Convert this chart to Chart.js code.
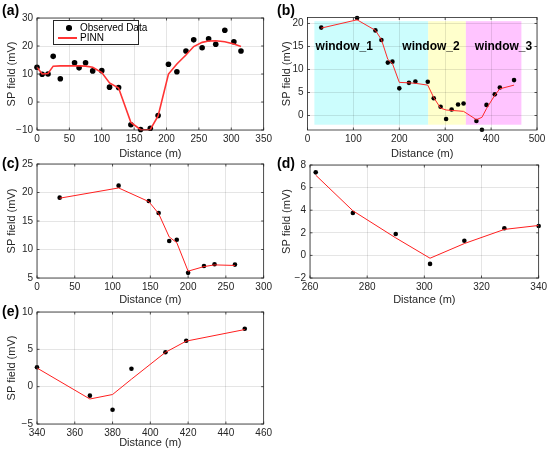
<!DOCTYPE html>
<html lang="en">
<head>
  <meta charset="UTF-8" />
  <title>SP field: observed data vs PINN</title>
  <script src="https://cdn.jsdelivr.net/npm/chart.js"></script>
  <style>
    html, body { margin: 0; padding: 0; background: #fff; }
    #fig { position: relative; width: 550px; height: 453px; overflow: hidden; font-family: "Liberation Sans", Arial, sans-serif; }
    .cell { position: absolute; }
    .tag { position: absolute; font-weight: bold; font-size: 14px; color: #000; line-height: 16px; }
    .legend { position: absolute; left: 53px; top: 20px; width: 84px; height: 23px; border: 0.8px solid #262626; background: #fff; font-size: 10px; color: #000; }
    .legend .row { position: absolute; left: 0; height: 11px; line-height: 11px; }
    .legend .dot { position: absolute; left: 12px; top: 3px; width: 5.5px; height: 5.5px; border-radius: 50%; background: #000; }
    .legend .seg { position: absolute; left: 4px; top: 5px; width: 19px; height: 1.6px; background: #ff3333; }
    .legend .txt { position: absolute; left: 26px; white-space: nowrap; }
  </style>
</head>

<body>
  <div id="fig">
    <div class="cell" style="left:0;top:0;width:275px;height:164px"><canvas id="chart-a"></canvas></div>
    <div class="cell" style="left:275px;top:0;width:275px;height:164px"><canvas id="chart-b"></canvas></div>
    <div class="cell" style="left:0;top:146px;width:275px;height:164px"><canvas id="chart-c"></canvas></div>
    <div class="cell" style="left:275px;top:146px;width:275px;height:164px"><canvas id="chart-d"></canvas></div>
    <div class="cell" style="left:0;top:293px;width:275px;height:160px"><canvas id="chart-e"></canvas></div>

    <div class="tag" style="left:2px;top:2px">(a)</div>
    <div class="tag" style="left:277px;top:2px">(b)</div>
    <div class="tag" style="left:2px;top:155px">(c)</div>
    <div class="tag" style="left:277px;top:155px">(d)</div>
    <div class="tag" style="left:2px;top:303px">(e)</div>

    <div class="legend">
      <div class="row" style="top:1px;width:100%"><span class="dot"></span><span class="txt">Observed Data</span></div>
      <div class="row" style="top:11px;width:100%"><span class="seg"></span><span class="txt">PINN</span></div>
    </div>
  </div>

  <script>
    // (a) full profile
    const distA = [0, 8, 17, 25, 36, 58, 65, 75, 86, 100, 112, 126, 145, 160, 175, 187, 203, 216, 230, 242, 255, 265, 276, 290, 304, 315];
    const obsA  = [12.4, 9.9, 10.0, 16.3, 8.3, 14.0, 12.2, 14.0, 11.1, 11.2, 5.3, 5.2, -8.1, -9.8, -9.4, -4.8, 13.5, 10.8, 18.2, 22.2, 19.4, 22.6, 20.6, 25.6, 21.5, 18.2];
    const pinnA = [12.4, 10.0, 10.2, 12.8, 12.9, 12.9, 12.9, 12.8, 12.4, 10.5, 6.8, 5.0, -7.3, -9.9, -9.8, -5.0, 10.0, 13.6, 16.8, 19.8, 21.3, 21.8, 21.9, 21.5, 20.7, 19.8];

    // (b) all three windows together
    const distB = [30, 108, 148, 161, 175, 185, 200, 221, 235, 262, 275, 290, 302, 314, 328, 340, 368, 380, 390, 408, 419, 450];
    const obsB  = [19.1, 21.2, 18.5, 16.4, 11.5, 11.7, 5.9, 7.1, 7.4, 7.35, 3.75, 1.9, -0.75, 1.3, 2.4, 2.6, -1.2, -3.1, 2.3, 4.6, 6.1, 7.7];
    const pinnB = [19.0, 20.8, 18.5, 16.5, 12.2, 11.3, 7.2, 7.1, 7.0, 6.6, 3.9, 1.6, 1.2, 1.1, 1.0, 0.9, -0.9, -0.4, 1.5, 4.4, 5.8, 6.6];
    const windowNames = ["window_1", "window_2", "window_3"];
    const windowStart = [15, 263, 345];
    const windowEnd   = [263, 345, 466];
    const windowLabelX = [80, 269, 427];
    const windowColors = ["#ccfdfd", "#ffffcc", "#ffc4ff"];

    // (c) window 1
    const distC = [30, 108, 148, 161, 175, 185, 200, 221, 235, 262];
    const obsC  = [19.1, 21.2, 18.5, 16.4, 11.5, 11.7, 5.9, 7.1, 7.4, 7.35];
    const pinnC = [19.0, 20.8, 18.4, 16.3, 12.2, 11.2, 6.2, 7.0, 7.3, 7.2];

    // (d) window 2
    const distD = [262, 275, 290, 302, 314, 328, 340];
    const obsD  = [7.35, 3.75, 1.9, -0.75, 1.3, 2.4, 2.6];
    const pinnD = [7.1, 3.95, 1.55, -0.25, 1.05, 2.3, 2.65];

    // (e) window 3
    const distE = [340, 368, 380, 390, 408, 419, 450];
    const obsE  = [2.6, -1.2, -3.1, 2.4, 4.6, 6.15, 7.75];
    const pinnE = [2.5, -1.65, -1.05, 1.0, 4.6, 6.1, 7.65];

    const FONT = "'Liberation Sans', Arial, sans-serif";
    const INK = "#262626";

    const toPoints = (xs, ys) => xs.map((x, i) => ({ x: x, y: ys[i] }));
    const minus = v => String(v).replace("-", "\u2212");

    // matlab-like axes box with inward ticks
    const boxPlugin = {
      id: "box",
      afterDraw(chart) {
        const { ctx, chartArea: a, scales: { x, y } } = chart;
        ctx.save();
        ctx.strokeStyle = INK;
        ctx.lineWidth = 0.8;
        ctx.strokeRect(a.left, a.top, a.right - a.left, a.bottom - a.top);
        ctx.beginPath();
        x.ticks.forEach(t => {
          const px = x.getPixelForValue(t.value);
          ctx.moveTo(px, a.bottom); ctx.lineTo(px, a.bottom - 2.5);
          ctx.moveTo(px, a.top); ctx.lineTo(px, a.top + 2.5);
        });
        y.ticks.forEach(t => {
          const py = y.getPixelForValue(t.value);
          ctx.moveTo(a.left, py); ctx.lineTo(a.left + 2.5, py);
          ctx.moveTo(a.right, py); ctx.lineTo(a.right - 2.5, py);
        });
        ctx.stroke();
        ctx.restore();
      }
    };

    // shaded windows for panel (b)
    const windowPlugin = {
      id: "windows",
      beforeDraw(chart) {
        const { ctx, scales: { x, y } } = chart;
        ctx.save();
        windowNames.forEach((name, i) => {
          const x0 = x.getPixelForValue(windowStart[i]);
          const x1 = x.getPixelForValue(windowEnd[i]);
          const y0 = y.getPixelForValue(20.5);
          const y1 = y.getPixelForValue(-2);
          ctx.fillStyle = windowColors[i];
          ctx.fillRect(x0, y0, x1 - x0, y1 - y0);
        });
        ctx.restore();
      },
      beforeDatasetsDraw(chart) {
        const { ctx, scales: { x, y } } = chart;
        ctx.save();
        ctx.fillStyle = "#000";
        ctx.font = "bold 12px " + FONT;
        ctx.textAlign = "center";
        ctx.textBaseline = "middle";
        windowNames.forEach((name, i) => {
          ctx.fillText(name, x.getPixelForValue(windowLabelX[i]), y.getPixelForValue(15));
        });
        ctx.restore();
      }
    };

    function panel(id, o) {
      return new Chart(document.getElementById(id), {
        type: "scatter",
        data: {
          datasets: [
            {
              label: "PINN",
              data: toPoints(o.x, o.pinn),
              showLine: true,
              borderColor: o.lineColor,
              borderWidth: o.lineWidth,
              pointRadius: 0,
              order: 0,
              clip: false
            },
            {
              label: "Observed Data",
              data: toPoints(o.x, o.obs),
              pointRadius: o.dot,
              backgroundColor: "#000",
              borderWidth: 0,
              order: 1,
              clip: false
            }
          ]
        },
        options: {
          responsive: true,
          maintainAspectRatio: false,
          animation: false,
          layout: { padding: { top: o.top, right: o.right, left: 0, bottom: 0 } },
          plugins: { legend: { display: false }, tooltip: { enabled: false } },
          scales: {
            x: {
              type: "linear",
              min: o.xr[0], max: o.xr[1],
              ticks: { stepSize: o.xr[2], font: { family: FONT, size: 10 }, color: INK, padding: 3, maxRotation: 0, callback: minus },
              grid: { color: "rgba(0,0,0,0.13)", lineWidth: 0.8, drawTicks: false },
              border: { display: false },
              title: { display: true, text: "Distance (m)", font: { family: FONT, size: 11 }, color: INK, padding: { top: 2, bottom: 3 } },
              afterFit: s => { s.height = o.xh; }
            },
            y: {
              type: "linear",
              min: o.yr[0], max: o.yr[1],
              ticks: { stepSize: o.yr[2], includeBounds: false, font: { family: FONT, size: 10 }, color: INK, padding: 4, callback: minus },
              grid: { color: "rgba(0,0,0,0.13)", lineWidth: 0.8, drawTicks: false },
              border: { display: false },
              title: { display: true, text: "SP field (mV)", font: { family: FONT, size: 11 }, color: INK, padding: { top: 5, bottom: 2 } },
              afterFit: s => { s.width = o.yw; }
            }
          }
        },
        plugins: o.extra ? [o.extra, boxPlugin] : [boxPlugin]
      });
    }

    panel("chart-a", { x: distA, obs: obsA, pinn: pinnA, xr: [0, 350, 50], yr: [-10, 30, 10],
      top: 18, right: 7, yw: 37, xh: 34, dot: 2.8, lineColor: "#ff3333", lineWidth: 1.6 });
    panel("chart-b", { x: distB, obs: obsB, pinn: pinnB, xr: [0, 500, 100], yr: [-3.15, 21.3, 5],
      top: 17.5, right: 13, yw: 32.5, xh: 34, dot: 2.3, lineColor: "#ff2a2a", lineWidth: 1, extra: windowPlugin });
    panel("chart-c", { x: distC, obs: obsC, pinn: pinnC, xr: [0, 300, 50], yr: [5, 25, 5],
      top: 18, right: 7, yw: 37, xh: 32, dot: 2.3, lineColor: "#ff1f1f", lineWidth: 1 });
    panel("chart-d", { x: distD, obs: obsD, pinn: pinnD, xr: [260, 340, 20], yr: [-2, 8, 2],
      top: 19, right: 11, yw: 35, xh: 32, dot: 2.3, lineColor: "#ff1f1f", lineWidth: 1 });
    panel("chart-e", { x: distE, obs: obsE, pinn: pinnE, xr: [340, 460, 20], yr: [-5, 10, 5],
      top: 19, right: 8, yw: 37, xh: 29, dot: 2.3, lineColor: "#ff1f1f", lineWidth: 1 });
  </script>
</body>
</html>
